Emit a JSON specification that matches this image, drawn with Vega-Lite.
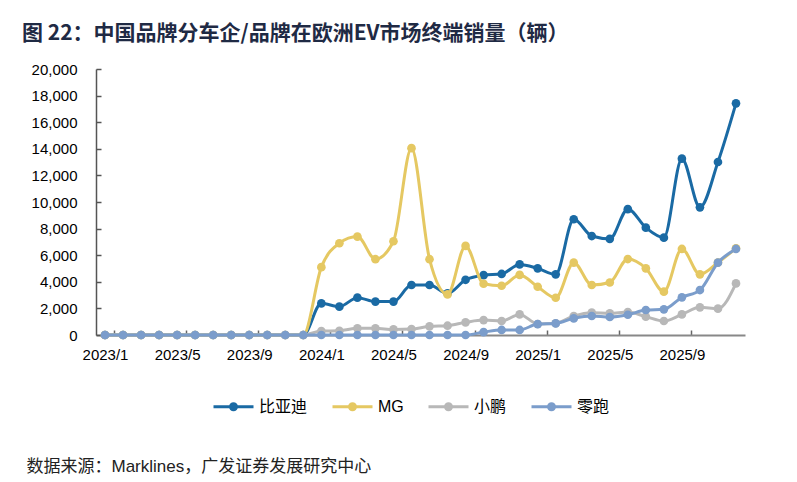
{
  "$schema": "https://vega.github.io/schema/vega-lite/v6.json",
  "width": 649,
  "height": 266,
  "autosize": {"type": "none"},
  "padding": {"left": 96, "top": 69, "right": 52, "bottom": 147},
  "background": "white",
  "title": {
    "text": "图 22：中国品牌分车企/品牌在欧洲EV市场终端销量（辆）",
    "anchor": "start",
    "frame": "group",
    "dx": -74,
    "offset": 18,
    "font": "Noto Sans CJK SC",
    "fontSize": 21,
    "fontWeight": "bold",
    "color": "#1f2a44"
  },
  "config": {"view": {"stroke": null}},
  "data": {
    "values": [
      {"m": "2023/1", "比亚迪": 0, "MG": 0, "小鹏": 0, "零跑": 0},
      {"m": "2023/2", "比亚迪": 0, "MG": 0, "小鹏": 0, "零跑": 0},
      {"m": "2023/3", "比亚迪": 0, "MG": 0, "小鹏": 0, "零跑": 0},
      {"m": "2023/4", "比亚迪": 0, "MG": 0, "小鹏": 0, "零跑": 0},
      {"m": "2023/5", "比亚迪": 0, "MG": 0, "小鹏": 0, "零跑": 0},
      {"m": "2023/6", "比亚迪": 0, "MG": 0, "小鹏": 0, "零跑": 0},
      {"m": "2023/7", "比亚迪": 0, "MG": 0, "小鹏": 0, "零跑": 0},
      {"m": "2023/8", "比亚迪": 0, "MG": 0, "小鹏": 0, "零跑": 0},
      {"m": "2023/9", "比亚迪": 0, "MG": 0, "小鹏": 0, "零跑": 0},
      {"m": "2023/10", "比亚迪": 0, "MG": 0, "小鹏": 0, "零跑": 0},
      {"m": "2023/11", "比亚迪": 0, "MG": 0, "小鹏": 0, "零跑": 0},
      {"m": "2023/12", "比亚迪": 0, "MG": 0, "小鹏": 0, "零跑": 0},
      {"m": "2024/1", "比亚迪": 2380, "MG": 5100, "小鹏": 300, "零跑": 0},
      {"m": "2024/2", "比亚迪": 2130, "MG": 6900, "小鹏": 320, "零跑": 0},
      {"m": "2024/3", "比亚迪": 2810, "MG": 7400, "小鹏": 500, "零跑": 0},
      {"m": "2024/4", "比亚迪": 2510, "MG": 5700, "小鹏": 500, "零跑": 0},
      {"m": "2024/5", "比亚迪": 2510, "MG": 7050, "小鹏": 420, "零跑": 0},
      {"m": "2024/6", "比亚迪": 3760, "MG": 14050, "小鹏": 450, "零跑": 0},
      {"m": "2024/7", "比亚迪": 3760, "MG": 5700, "小鹏": 650, "零跑": 0},
      {"m": "2024/8", "比亚迪": 3130, "MG": 3050, "小鹏": 700, "零跑": 0},
      {"m": "2024/9", "比亚迪": 4150, "MG": 6700, "小鹏": 950, "零跑": 0},
      {"m": "2024/10", "比亚迪": 4500, "MG": 3850, "小鹏": 1120, "零跑": 220},
      {"m": "2024/11", "比亚迪": 4590, "MG": 3700, "小鹏": 1050, "零跑": 380},
      {"m": "2024/12", "比亚迪": 5310, "MG": 4520, "小鹏": 1550, "零跑": 380},
      {"m": "2025/1", "比亚迪": 5010, "MG": 3630, "小鹏": 830, "零跑": 820},
      {"m": "2025/2", "比亚迪": 4560, "MG": 2800, "小鹏": 880, "零跑": 870},
      {"m": "2025/3", "比亚迪": 8700, "MG": 5440, "小鹏": 1430, "零跑": 1250},
      {"m": "2025/4", "比亚迪": 7440, "MG": 3760, "小鹏": 1680, "零跑": 1430},
      {"m": "2025/5", "比亚迪": 7230, "MG": 3950, "小鹏": 1630, "零跑": 1350},
      {"m": "2025/6", "比亚迪": 9460, "MG": 5710, "小鹏": 1720, "零跑": 1520},
      {"m": "2025/7", "比亚迪": 8070, "MG": 5010, "小鹏": 1380, "零跑": 1880},
      {"m": "2025/8", "比亚迪": 7320, "MG": 3260, "小鹏": 1050, "零跑": 1930},
      {"m": "2025/9", "比亚迪": 13260, "MG": 6470, "小鹏": 1550, "零跑": 2830},
      {"m": "2025/10", "比亚迪": 9600, "MG": 4560, "小鹏": 2080, "零跑": 3380},
      {"m": "2025/11", "比亚迪": 13010, "MG": 5450, "小鹏": 1980, "零跑": 5440},
      {"m": "2025/12", "比亚迪": 17420, "MG": 6520, "小鹏": 3880, "零跑": 6470}
    ]
  },
  "transform": [{"fold": ["比亚迪", "MG", "小鹏", "零跑"], "as": ["brand", "value"]}],
  "encoding": {
    "x": {
      "field": "m",
      "type": "ordinal",
      "bandPosition": 0.5,
      "scale": {
        "type": "band",
        "paddingInner": 0,
        "paddingOuter": 0,
        "domain": ["2023/1","2023/2","2023/3","2023/4","2023/5","2023/6","2023/7","2023/8","2023/9","2023/10","2023/11","2023/12","2024/1","2024/2","2024/3","2024/4","2024/5","2024/6","2024/7","2024/8","2024/9","2024/10","2024/11","2024/12","2025/1","2025/2","2025/3","2025/4","2025/5","2025/6","2025/7","2025/8","2025/9","2025/10","2025/11","2025/12"]
      },
      "axis": {
        "title": "数据来源：Marklines，广发证券发展研究中心",
        "titleX": -70,
        "titleY": 131,
        "titleAlign": "left",
        "titleAnchor": "start",
        "titleBaseline": "middle",
        "titleFont": "Liberation Sans, Noto Sans CJK SC",
        "titleFontSize": 17,
        "titleFontWeight": "normal",
        "titleColor": "#222222",
        "labelAngle": 0,
        "labelFont": "Liberation Sans",
        "labelFontSize": 15,
        "labelColor": "#000000",
        "labelPadding": 17,
        "labelOverlap": false,
        "labelExpr": "indexof(['1','5','9'], split(datum.value,'/')[1]) >= 0 ? datum.value : ''",
        "tickBand": "extent",
        "tickSize": -5,
        "tickWidth": 1.5,
        "tickColor": {"condition": {"test": "indexof(['1','5','9'], split(datum.value,'/')[1]) >= 0", "value": "#666666"}, "value": "transparent"},
        "domainColor": "#888888",
        "domainWidth": 2,
        "grid": false
      }
    },
    "y": {
      "field": "value",
      "type": "quantitative",
      "scale": {"domain": [0, 20000]},
      "axis": {
        "title": null,
        "values": [0, 2000, 4000, 6000, 8000, 10000, 12000, 14000, 16000, 18000, 20000],
        "format": ",.0f",
        "labelFont": "Liberation Sans",
        "labelFontSize": 15,
        "labelColor": "#000000",
        "labelPadding": 24,
        "labelOverlap": false,
        "tickSize": -5,
        "tickColor": "#555555",
        "tickWidth": 1.5,
        "domainColor": "#555555",
        "domainWidth": 1.5,
        "grid": false
      }
    },
    "color": {
      "field": "brand",
      "type": "nominal",
      "scale": {
        "domain": ["比亚迪", "MG", "小鹏", "零跑"],
        "range": ["#1a6aa4", "#e5c862", "#b8b8b8", "#7b9dcb"]
      },
      "legend": {
        "orient": "none",
        "legendX": 116,
        "legendY": 316,
        "direction": "horizontal",
        "title": null,
        "symbolType": "M-1,0H1M-0.15,0A0.15,0.15 0 1,0 0.15,0A0.15,0.15 0 1,0 -0.15,0",
        "symbolSize": 1600,
        "symbolStrokeWidth": 3,
        "labelFont": "Liberation Sans, Noto Sans CJK SC",
        "labelFontSize": 16,
        "labelColor": "#000000",
        "labelOffset": 4,
        "columnPadding": 18,
        "encode": {
          "symbols": {
            "update": {
              "fill": {"scale": "color", "field": "value"},
              "stroke": {"scale": "color", "field": "value"},
              "fillOpacity": {"value": 1}
            }
          }
        }
      }
    }
  },
  "layer": [
    {"transform": [{"filter": "datum.brand == '比亚迪'"}], "mark": {"type": "line", "strokeWidth": 3, "interpolate": "monotone", "point": {"filled": true, "size": 75}}},
    {"transform": [{"filter": "datum.brand == 'MG'"}], "mark": {"type": "line", "strokeWidth": 3, "interpolate": "monotone", "point": {"filled": true, "size": 75}}},
    {"transform": [{"filter": "datum.brand == '小鹏'"}], "mark": {"type": "line", "strokeWidth": 3, "interpolate": "monotone", "point": {"filled": true, "size": 75}}},
    {"transform": [{"filter": "datum.brand == '零跑'"}], "mark": {"type": "line", "strokeWidth": 3, "interpolate": "monotone", "point": {"filled": true, "size": 75}}}
  ]
}
